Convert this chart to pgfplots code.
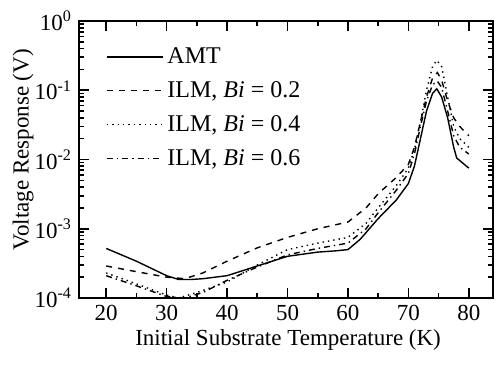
\documentclass[border=0pt]{standalone}
\usepackage{pgfplots}
\pgfplotsset{compat=1.18}
\usepackage{fontspec}
\setmainfont{Liberation Serif}
\begin{document}
\begin{tikzpicture}
\begin{axis}[
  scale only axis, width=207pt, height=138.5pt,
  at={(0,0)}, anchor=south west,
  ymode=log, xmin=15.5, xmax=84, ymin=1e-4, ymax=1,
  /pgf/number format/assume math mode=true,
  xtick={20,30,...,80}, minor xtick={15,25,...,85},
  ytick={1e-4,1e-3,1e-2,1e-1,1},
  yticklabels={10\textsuperscript{-4},10\textsuperscript{-3},10\textsuperscript{-2},10\textsuperscript{-1},10\textsuperscript{0}},
  tick align=inside, major tick length=5pt, minor tick length=2.5pt,
  tick style={black, line width=0.8pt},
  axis line style={line width=0.9pt},
  ticklabel style={font=\fontsize{11.5}{12}\selectfont},
  xlabel={Initial Substrate Temperature (K)},
  ylabel={Voltage Response (V)},
  label style={font=\fontsize{11.5}{12}\selectfont},
  xlabel style={at={(axis description cs:0.505,-0.15)}, anchor=center},
  ylabel style={at={(axis description cs:-0.135,0.535)}, anchor=center},
  legend cell align=left,
  legend style={draw=none, fill=none, at={(axis description cs:0.05,0.935)}, anchor=north west,
    font=\fontsize{12}{13}\selectfont, row sep=3.5pt},
  legend image code/.code={\draw[#1] (0pt,0pt) -- (28pt,0pt);},
]
\addplot[black, line width=0.7pt] coordinates {
(20,5.2e-4)(25,3.4e-4)(30,2.1e-4)(32,1.85e-4)(34,1.85e-4)(36,1.9e-4)(40,2.1e-4)
(45,2.9e-4)(50,4.0e-4)(55,4.6e-4)(58,4.8e-4)(60,5.0e-4)(62,7.0e-4)(65,1.4e-3)
(68,2.6e-3)(70,4.5e-3)(71,8e-3)(72,2e-2)(73,5e-2)(74,9e-2)(74.7,1.05e-1)
(75.5,8e-2)(76.5,4e-2)(77.5,1.5e-2)(78,1.05e-2)(80,7.5e-3)};
\addlegendentry{AMT}
\addplot[black, line width=0.7pt, dashed] coordinates {
(20,2.9e-4)(25,2.4e-4)(30,2.0e-4)(33,1.9e-4)(36,2.3e-4)(40,3.4e-4)(45,5.3e-4)
(50,7.5e-4)(55,1.0e-3)(60,1.25e-3)(63,2.0e-3)(65,3.2e-3)(68,5.5e-3)(70,8.5e-3)
(71,1.5e-2)(72,3.5e-2)(73,8e-2)(74,1.5e-1)(74.8,1.8e-1)(75.5,1.4e-1)(76.5,7e-2)
(77.5,4e-2)(78.5,3e-2)(80,2.2e-2)};
\addlegendentry{ILM, \textit{Bi} = 0.2}
\addplot[black, line width=0.7pt, dotted] coordinates {
(20,2.3e-4)(25,1.6e-4)(30,1.1e-4)(32,1.0e-4)(35,1.2e-4)(40,1.7e-4)(45,3.0e-4)
(50,5.0e-4)(55,6.2e-4)(60,7.5e-4)(63,1.2e-3)(65,2.0e-3)(68,4.2e-3)(70,7.5e-3)
(71,1.4e-2)(72,3.5e-2)(73,1e-1)(74,2.2e-1)(74.7,2.7e-1)(75.5,2.2e-1)(76.5,8e-2)
(77.5,3e-2)(78.5,2e-2)(80,1.5e-2)};
\addlegendentry{ILM, \textit{Bi} = 0.4}
\addplot[black, line width=0.7pt, dashdotted] coordinates {
(20,2.1e-4)(25,1.5e-4)(30,1.05e-4)(33,1.0e-4)(36,1.2e-4)(40,1.8e-4)(45,2.8e-4)
(50,4.2e-4)(55,5.2e-4)(60,6.2e-4)(63,1.0e-3)(65,1.7e-3)(68,3.6e-3)(70,6.3e-3)
(71,1.2e-2)(72,3e-2)(73,7e-2)(74,1.2e-1)(74.8,1.35e-1)(75.5,1.1e-1)(76.5,5e-2)
(77.5,2.2e-2)(78.5,1.5e-2)(80,1.2e-2)};
\addlegendentry{ILM, \textit{Bi} = 0.6}
\end{axis}
\pgfresetboundingbox
\path (-39.5pt,-36pt) rectangle (210.5pt,149pt);
\end{tikzpicture}
\end{document}
